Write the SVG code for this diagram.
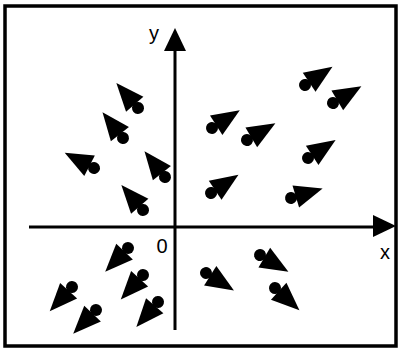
<svg xmlns="http://www.w3.org/2000/svg" xmlns:xlink="http://www.w3.org/1999/xlink" width="398" height="350" viewBox="0 0 398 350">
<style>
.frame{fill:none;stroke:#000;stroke-width:3.5}
.axis{stroke:#000;stroke-width:3;fill:none}
.head{fill:#000}
.lbl{font-family:"Liberation Sans",Arial,sans-serif;font-size:20px;fill:#000}
</style>
<defs>
<g id="pin">
<circle cx="0" cy="0" r="6" fill="#000"/>
<line x1="0" y1="0" x2="9" y2="0" stroke="#000" stroke-width="4"/>
<polygon points="5,-11.5 33,0 5,11.5" fill="#000"/>
</g>
</defs>
<rect class="frame" x="5" y="6" width="391" height="340"/>
<g id="connectors">
<line class="axis" x1="175" y1="48" x2="175" y2="330"/>
<polygon class="head" points="175,28 164,51 186,51"/>
<line class="axis" x1="29" y1="227" x2="376" y2="227"/>
<polygon class="head" points="396,226 373,215 373,237"/>
</g>
<g id="labels">
<text class="lbl" x="154" y="40" text-anchor="middle">y</text>
<text class="lbl" x="385" y="259" text-anchor="middle">x</text>
<text class="lbl" x="162" y="253" text-anchor="middle">0</text>
</g>
<g id="n1"><use xlink:href="#pin" transform="translate(138,108) rotate(-131)"/></g>
<g id="n2"><use xlink:href="#pin" transform="translate(123,138) rotate(-128.4)"/></g>
<g id="n3"><use xlink:href="#pin" transform="translate(94,168) rotate(-152.6)"/></g>
<g id="n4"><use xlink:href="#pin" transform="translate(165,177) rotate(-128.4)"/></g>
<g id="n5"><use xlink:href="#pin" transform="translate(143,210) rotate(-131)"/></g>
<g id="n6"><use xlink:href="#pin" transform="translate(305,85) rotate(-33.7)"/></g>
<g id="n7"><use xlink:href="#pin" transform="translate(333,103) rotate(-30.6)"/></g>
<g id="n8"><use xlink:href="#pin" transform="translate(212,128) rotate(-32.7)"/></g>
<g id="n9"><use xlink:href="#pin" transform="translate(247,140) rotate(-30.6)"/></g>
<g id="n10"><use xlink:href="#pin" transform="translate(308,158) rotate(-33.2)"/></g>
<g id="n11"><use xlink:href="#pin" transform="translate(211,193) rotate(-33.7)"/></g>
<g id="n12"><use xlink:href="#pin" transform="translate(291,198) rotate(-16.7)"/></g>
<g id="n13"><use xlink:href="#pin" transform="translate(128,248) rotate(133.7)"/></g>
<g id="n14"><use xlink:href="#pin" transform="translate(143,275) rotate(132.3)"/></g>
<g id="n15"><use xlink:href="#pin" transform="translate(72,287) rotate(132.4)"/></g>
<g id="n16"><use xlink:href="#pin" transform="translate(96,310) rotate(133.7)"/></g>
<g id="n17"><use xlink:href="#pin" transform="translate(158,302) rotate(131)"/></g>
<g id="n18"><use xlink:href="#pin" transform="translate(260,255) rotate(30.6)"/></g>
<g id="n19"><use xlink:href="#pin" transform="translate(206,273) rotate(32.2)"/></g>
<g id="n20"><use xlink:href="#pin" transform="translate(275,288) rotate(42.3)"/></g>
</svg>
